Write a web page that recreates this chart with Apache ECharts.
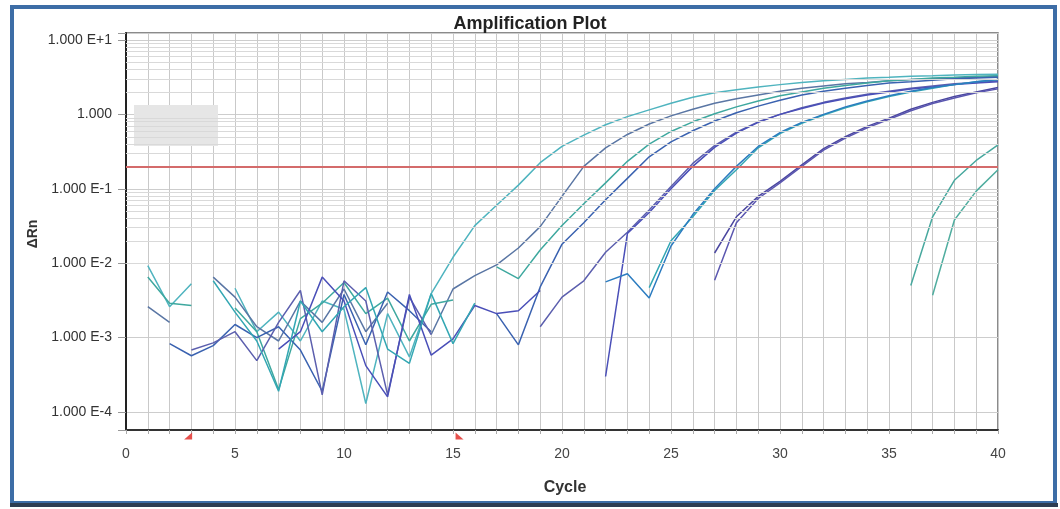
<!DOCTYPE html>
<html>
<head>
<meta charset="utf-8">
<title>Amplification Plot</title>
<script src="https://cdn.jsdelivr.net/npm/echarts@6/dist/echarts.min.js"></script>
<style>
    html, body { margin: 0; padding: 0; background: #fff; }
    #main { width: 1060px; height: 509px; }
</style>
</head>
<body>
<div id="main"></div>
<script>
// cycle numbers (x axis)
var cycles = [1, 2, 3, 4, 5, 6, 7, 8, 9, 10,
    11, 12, 13, 14, 15, 16, 17, 18, 19, 20,
    21, 22, 23, 24, 25, 26, 27, 28, 29, 30,
    31, 32, 33, 34, 35, 36, 37, 38, 39, 40];

// tick labels
var xTickLabels = [0, 5, 10, 15, 20, 25, 30, 35, 40];
var yTickValues = [0.0001, 0.001, 0.01, 0.1, 1, 10];
var yTickLabels = ['1.000 E-4', '1.000 E-3', '1.000 E-2', '1.000 E-1', '1.000', '1.000 E+1'];

var threshold = 0.2;        // red threshold line
var baselineMarks = [2.85, 15.3]; // baseline start / end (red flags)

// delta Rn per well, one value per cycle (null = not drawn)
var wellA = [0.0093, 0.0026, 0.0053, null, 0.0046, 0.0012, 0.0022, 0.0009, 0.0031, 0.0024,
    0.00013, 0.0021, 0.00055, 0.0039, 0.012, 0.032, 0.060, 0.112, 0.224, 0.372,
    0.525, 0.724, 0.933, 1.15, 1.41, 1.70, 1.95, 2.14, 2.34, 2.51,
    2.69, 2.82, 2.95, 3.09, 3.16, 3.24, 3.31, 3.39, 3.43, 3.47];
var wellB = [0.0026, 0.0016, null, 0.0065, 0.0035, 0.0014, 0.0009, 0.0031, 0.0016, 0.0045,
    0.0012, 0.0029, null, 0.0011, 0.0045, 0.0068, 0.0095, 0.016, 0.031, 0.079,
    0.200, 0.355, 0.537, 0.741, 0.955, 1.17, 1.41, 1.62, 1.82, 2.04,
    2.24, 2.40, 2.57, 2.69, 2.82, 2.95, 3.02, 3.09, 3.16, 3.24];
var wellC = [0.0065, 0.0029, 0.0027, null, 0.0025, 0.0012, 0.0002, 0.0018, 0.0029, 0.0055,
    0.0021, 0.0034, 0.0009, 0.0028, 0.0032, null, 0.0089, 0.0062, 0.015, 0.032,
    0.063, 0.120, 0.234, 0.398, 0.589, 0.794, 1.02, 1.26, 1.51, 1.78,
    2.00, 2.24, 2.45, 2.63, 2.82, 2.95, 3.09, 3.16, 3.24, 3.31];
var wellD = [null, 0.00083, 0.00057, 0.00078, 0.0015, 0.0010, 0.0014, 0.00068, 0.00019, 0.0038,
    0.0008, 0.0041, 0.0023, 0.0012, null, null, 0.0021, 0.0008, 0.0048, 0.018,
    0.035, 0.071, 0.138, 0.269, 0.427, 0.603, 0.813, 1.05, 1.29, 1.55,
    1.82, 2.04, 2.24, 2.45, 2.63, 2.75, 2.88, 3.02, 3.09, 3.16];
var wellE1 = [null, null, 0.00068, 0.00085, 0.0012, 0.00049, 0.0016, 0.0043, 0.00017, 0.0058,
    0.0031, 0.00017, 0.0035, 0.0011, null, null, null, null, 0.0014, 0.0035,
    0.0058, 0.014, 0.026, 0.052, 0.107, 0.219, 0.380, 0.575, 0.794, 1.00,
    1.23, 1.45, 1.66, 1.86, 2.04, 2.24, 2.40, 2.57, 2.69, 2.82];
var wellE2 = [null, null, null, null, null, null, 0.0007, 0.0012, 0.0065, 0.0031,
    0.00042, 0.00016, 0.0038, 0.00058, 0.00096, 0.0027, 0.0021, 0.0023, 0.0043, null,
    null, 0.0003, 0.025, 0.048, 0.100, 0.200, 0.360, 0.560, 0.780, 1.00,
    1.20, 1.42, 1.62, 1.82, 2.00, 2.19, 2.34, 2.51, 2.63, 2.75];
var wellF1 = [null, null, null, 0.0058, 0.0022, 0.0009, 0.00019, 0.0031, 0.0012, 0.0026,
    0.0047, 0.0007, 0.00045, 0.0039, 0.00083, 0.0029, null, null, null, null,
    null, null, null, 0.0047, 0.020, 0.042, 0.095, 0.180, 0.355, 0.550,
    0.760, 0.980, 1.23, 1.48, 1.74, 2.00, 2.24, 2.51, 2.75, 2.95];
var wellF2 = [null, null, null, null, null, null, null, null, null, null,
    null, null, null, null, null, null, null, null, null, null,
    null, 0.0056, 0.0072, 0.0034, 0.017, 0.045, 0.100, 0.200, 0.370, 0.570,
    0.780, 1.00, 1.26, 1.51, 1.78, 2.04, 2.29, 2.51, 2.75, 2.95];
var wellG1 = [null, null, null, null, null, null, null, null, null, null,
    null, null, null, null, null, null, null, null, null, null,
    null, null, null, null, null, null, 0.0137, 0.042, 0.079, 0.126,
    0.209, 0.347, 0.500, 0.690, 0.890, 1.17, 1.45, 1.74, 2.00, 2.29];
var wellG2 = [null, null, null, null, null, null, null, null, null, null,
    null, null, null, null, null, null, null, null, null, null,
    null, null, null, null, null, null, 0.0059, 0.035, 0.074, 0.120,
    0.200, 0.330, 0.480, 0.660, 0.860, 1.12, 1.40, 1.66, 1.95, 2.20];
var wellH = [null, null, null, null, null, null, null, null, null, null,
    null, null, null, null, null, null, null, null, null, null,
    null, null, null, null, null, null, null, null, null, null,
    null, null, null, null, null, 0.005, 0.042, 0.130, 0.240, 0.390];
var wellI = [null, null, null, null, null, null, null, null, null, null,
    null, null, null, null, null, null, null, null, null, null,
    null, null, null, null, null, null, null, null, null, null,
    null, null, null, null, null, null, 0.0037, 0.038, 0.093, 0.180];

var wells = [
    ['A', wellA, '#4fb4bf'],
    ['B', wellB, '#5a76a4'],
    ['C', wellC, '#3ea89f'],
    ['D', wellD, '#3a62b0'],
    ['E1', wellE1, '#5c5fae'],
    ['E2', wellE2, '#4a4fb8'],
    ['F1', wellF1, '#33a7b3'],
    ['F2', wellF2, '#2c7cc0'],
    ['G1', wellG1, '#4b47a0'],
    ['G2', wellG2, '#5b57b0'],
    ['H', wellH, '#48a89e'],
    ['I', wellI, '#50ad9f']
];

var yMin = 5.73e-5, yMax = 12.4;

// light minor grid lines at 2..9 of each decade
var minorLines = [];
for (var e = -5; e <= 1; e++) {
    for (var m = 2; m <= 9; m++) {
        var v = m * Math.pow(10, e);
        if (v > yMin && v < yMax) minorLines.push({ yAxis: v });
    }
}

var myChart = echarts.init(document.getElementById('main'));

var series = [{
    type: 'line',
    data: [],
    silent: true,
    z: 1,
    markLine: {
        silent: true,
        animation: false,
        symbol: ['none', 'none'],
        label: { show: false },
        lineStyle: { color: '#d9d9d9', width: 1, type: 'solid' },
        data: minorLines
    }
}];

wells.forEach(function (w) {
    series.push({
        name: w[0],
        type: 'line',
        z: 3,
        showSymbol: false,
        symbol: 'none',
        lineStyle: { color: w[2], width: 1.5 },
        data: cycles.map(function (c, i) { return [c, w[1][i]]; })
    });
});

series.push({
    type: 'line',
    data: [],
    z: 4,
    markLine: {
        silent: true,
        animation: false,
        symbol: ['none', 'none'],
        label: { show: false },
        lineStyle: { color: '#d46b6b', width: 2, type: 'solid' },
        data: [{ yAxis: threshold }]
    }
});

series.push({
    type: 'scatter',
    z: 5,
    clip: false,
    silent: true,
    symbolSize: [8, 7],
    symbolOffset: [0, 6],
    itemStyle: { color: '#e0241f' },
    data: [
        { value: [baselineMarks[0], yMin], symbol: 'path://M10,0 L10,10 L0,10 Z' },
        { value: [baselineMarks[1], yMin], symbol: 'path://M0,0 L0,10 L10,10 Z' }
    ]
});

var option = {
    animation: false,
    backgroundColor: '#ffffff',
    title: {
        text: 'Amplification Plot',
        left: 'center',
        top: 10,
        textStyle: { fontSize: 18, fontWeight: 'bold', color: '#222', fontFamily: 'Liberation Sans' }
    },
    grid: {
        left: 126, top: 33, width: 872, height: 397,
        show: true, borderColor: '#666', borderWidth: 1.5
    },
    xAxis: {
        type: 'value',
        min: 0, max: 40, interval: 1,
        axisLine: { show: true, onZero: false, lineStyle: { color: '#333', width: 2 } },
        axisTick: { show: true, length: 4, lineStyle: { color: '#aaa' } },
        axisLabel: {
            color: '#444', fontSize: 14, margin: 17, fontFamily: 'Liberation Sans',
            formatter: function (v) {
                return xTickLabels.indexOf(v) >= 0 ? String(v) : '';
            }
        },
        splitLine: { show: true, lineStyle: { color: '#c9c9c9', width: 1 } }
    },
    yAxis: {
        type: 'log',
        logBase: 10,
        min: yMin, max: yMax,
        axisLine: { show: true, onZero: false, lineStyle: { color: '#222', width: 2 } },
        axisTick: { show: true, length: 8, lineStyle: { color: '#999' } },
        axisLabel: {
            color: '#333', fontSize: 14, margin: 14, fontFamily: 'Liberation Sans',
            formatter: function (v) {
                for (var i = 0; i < yTickValues.length; i++) {
                    if (Math.abs(Math.log10(v) - Math.log10(yTickValues[i])) < 1e-6) return yTickLabels[i];
                }
                return '';
            }
        },
        splitLine: { show: true, lineStyle: { color: '#cdcdcd', width: 1 } }
    },
    graphic: [
        { type: 'rect', z: 2, silent: true, shape: { x: 134, y: 105, width: 84, height: 41 }, style: { fill: '#e6e6e6' } },
        { type: 'text', z: 10, x: 33, y: 234, rotation: Math.PI / 2,
          style: { text: 'ΔRn', fontSize: 14, fontWeight: 'bold', fontFamily: 'Liberation Sans', fill: '#333', align: 'center', verticalAlign: 'middle' } },
        { type: 'text', z: 10, x: 565, y: 488,
          style: { text: 'Cycle', fontSize: 16, fontWeight: 'bold', fontFamily: 'Liberation Sans', fill: '#333', align: 'center', verticalAlign: 'middle' } },
        { type: 'rect', z: 100, silent: true, shape: { x: 12, y: 7, width: 1043, height: 496 }, style: { fill: 'none', stroke: '#3d6da6', lineWidth: 4 } },
        { type: 'line', z: 101, silent: true, shape: { x1: 10, y1: 505, x2: 1058, y2: 505 }, style: { stroke: '#2e3d52', lineWidth: 4 } }
    ],
    series: series
};

myChart.setOption(option);
</script>
</body>
</html>
